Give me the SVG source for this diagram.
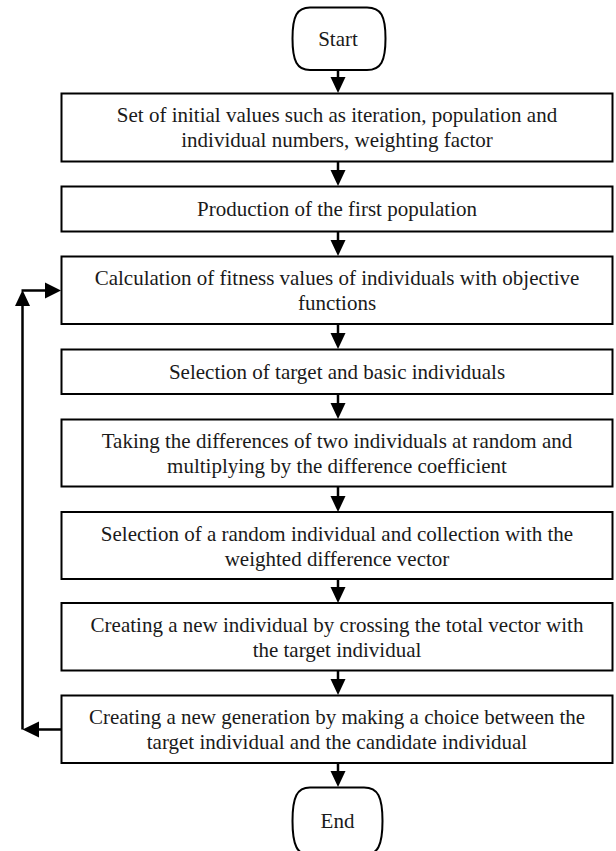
<svg xmlns="http://www.w3.org/2000/svg" width="616" height="851" viewBox="0 0 616 851">
<defs>
<style>
.box{fill:#fff;stroke:#000;stroke-width:2}
.term{fill:#fff;stroke:#000;stroke-width:2}
.t{font-family:"Liberation Serif","Times New Roman",serif;font-size:21px;fill:#1a1a1a;text-anchor:middle}
.c{fill:none;stroke:#000;stroke-width:2.5}
.ah{fill:#000;stroke:none}
</style>
</defs>
<g id="start">
<path class="term" d="M310 7.5 H367 C381 7.5 385.5 16 385.5 38.5 C385.5 61 381 70 367 70 H310 C297 70 292.5 61 292.5 38.5 C292.5 16 297 7.5 310 7.5 Z"/>
<text class="t" x="338" y="46">Start</text>
</g>
<g id="n1">
<rect class="box" x="61.5" y="93.5" width="551" height="68"/>
<text class="t" x="337" y="122">Set of initial values such as iteration, population and</text>
<text class="t" x="337" y="147">individual numbers, weighting factor</text>
</g>
<g id="n2">
<rect class="box" x="61.5" y="186.5" width="551" height="45"/>
<text class="t" x="337" y="216">Production of the first population</text>
</g>
<g id="n3">
<rect class="box" x="61.5" y="256.5" width="551" height="67.5"/>
<text class="t" x="337" y="285">Calculation of fitness values of individuals with objective</text>
<text class="t" x="337" y="310">functions</text>
</g>
<g id="n4">
<rect class="box" x="61.5" y="349.5" width="551" height="44.5"/>
<text class="t" x="337" y="379">Selection of target and basic individuals</text>
</g>
<g id="n5">
<rect class="box" x="61.5" y="419.5" width="551" height="67"/>
<text class="t" x="337" y="448">Taking the differences of two individuals at random and</text>
<text class="t" x="337" y="473">multiplying by the difference coefficient</text>
</g>
<g id="n6">
<rect class="box" x="61.5" y="512" width="551" height="67"/>
<text class="t" x="337" y="540.5">Selection of a random individual and collection with the</text>
<text class="t" x="337" y="565.5">weighted difference vector</text>
</g>
<g id="n7">
<rect class="box" x="61.5" y="603" width="551" height="67.5"/>
<text class="t" x="337" y="632">Creating a new individual by crossing the total vector with</text>
<text class="t" x="337" y="657">the target individual</text>
</g>
<g id="n8">
<rect class="box" x="61.5" y="695.5" width="551" height="67.5"/>
<text class="t" x="337" y="724">Creating a new generation by making a choice between the</text>
<text class="t" x="337" y="749">target individual and the candidate individual</text>
</g>
<g id="end">
<path class="term" d="M310 787.5 H364 C378 787.5 382.5 797 382.5 821 C382.5 845 378 855 364 855 H310 C297 855 292.5 845 292.5 821 C292.5 797 297 787.5 310 787.5 Z"/>
<text class="t" x="337.5" y="828">End</text>
</g>
<g id="connectors">
<line class="c" x1="338" y1="70" x2="338" y2="78"/>
<polygon class="ah" points="330.5,77 345.5,77 338,93"/>
<line class="c" x1="338" y1="162" x2="338" y2="171"/>
<polygon class="ah" points="330.5,170 345.5,170 338,186"/>
<line class="c" x1="338" y1="232" x2="338" y2="241"/>
<polygon class="ah" points="330.5,240 345.5,240 338,256"/>
<line class="c" x1="338" y1="324" x2="338" y2="334"/>
<polygon class="ah" points="330.5,333 345.5,333 338,349"/>
<line class="c" x1="338" y1="394" x2="338" y2="404"/>
<polygon class="ah" points="330.5,403 345.5,403 338,419"/>
<line class="c" x1="338" y1="487" x2="338" y2="497"/>
<polygon class="ah" points="330.5,496 345.5,496 338,512"/>
<line class="c" x1="338" y1="579" x2="338" y2="588"/>
<polygon class="ah" points="330.5,587 345.5,587 338,603"/>
<line class="c" x1="338" y1="671" x2="338" y2="680"/>
<polygon class="ah" points="330.5,679 345.5,679 338,695"/>
<line class="c" x1="338" y1="763" x2="338" y2="772"/>
<polygon class="ah" points="330.5,771 345.5,771 338,787"/>
<line class="c" x1="61" y1="729.5" x2="38" y2="729.5"/>
<polygon class="ah" points="39,721.5 39,737.5 22.5,729.5"/>
<line class="c" x1="22.5" y1="729.5" x2="22.5" y2="305"/>
<polygon class="ah" points="15,306 30,306 22.5,290"/>
<line class="c" x1="21.5" y1="290.5" x2="46" y2="290.5"/>
<polygon class="ah" points="45,282.5 45,298.5 61,290.5"/>
</g>
</svg>
